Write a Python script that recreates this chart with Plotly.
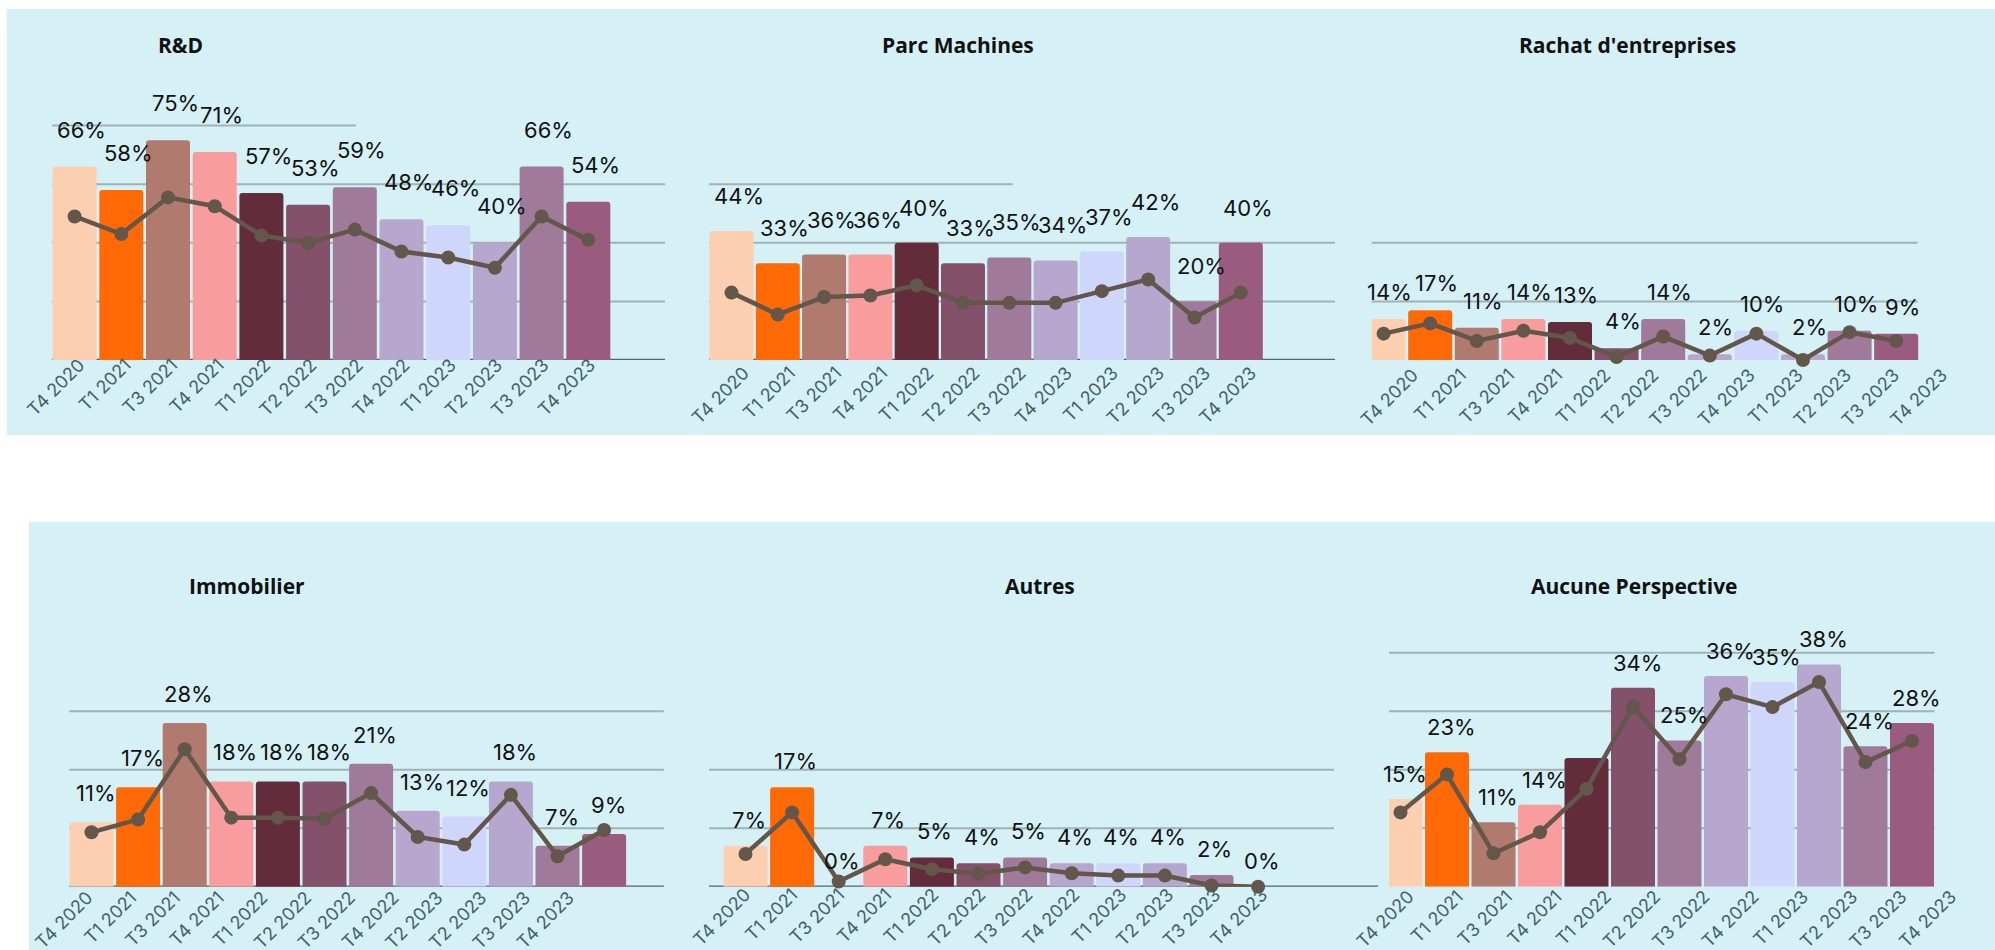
import plotly.graph_objects as go

W, H = 1995, 950

# ---------------- data ----------------
quarters = ["T4 2020", "T1 2021", "T3 2021", "T4 2021", "T1 2022", "T2 2022",
            "T3 2022", "T4 2022", "T1 2023", "T2 2023", "T3 2023", "T4 2023"]

rd_ticks = quarters
parc_ticks = ["T4 2020", "T1 2021", "T3 2021", "T4 2021", "T1 2022", "T2 2022",
              "T3 2022", "T4 2023", "T1 2023", "T2 2023", "T3 2023", "T4 2023"]
rachat_ticks = parc_ticks
immo_ticks = ["T4 2020", "T1 2021", "T3 2021", "T4 2021", "T1 2022", "T2 2022",
              "T3 2022", "T4 2022", "T2 2023", "T2 2023", "T3 2023", "T4 2023"]
autres_ticks = quarters
aucune_ticks = quarters

rd_bars = [66, 58, 75, 71, 57, 53, 59, 48, 46, 40, 66, 54]
rd_line = [49, 43, 55.5, 52.5, 42.5, 40, 44.5, 37, 35, 31.5, 49, 41]

parc_bars = [44, 33, 36, 36, 40, 33, 35, 34, 37, 42, 20, 40]
parc_line = [23, 15.5, 21.5, 22, 25.5, 19.5, 19.5, 19.5, 23.5, 27.5, 14.5, 23]

rachat_bars = [14, 17, 11, 14, 13, 4, 14, 2, 10, 2, 10, 9]
rachat_line = [9, 12.5, 6.5, 10, 7.5, 1, 8, 1.5, 9, 0, 9.5, 6.5]

immo_bars = [11, 17, 28, 18, 18, 18, 21, 13, 12, 18, 7, 9]
immo_line = [9.3, 11.5, 23.5, 11.8, 11.8, 11.6, 16, 8.5, 7.2, 15.7, 5.2, 9.7]

autres_bars = [7, 17, 0, 7, 5, 4, 5, 4, 4, 4, 2, 0]
autres_line = [5.6, 12.7, 0.9, 4.7, 3.0, 2.2, 3.3, 2.3, 1.9, 1.9, 0.2, 0]

aucune_bars = [15, 23, 11, 14, 22, 34, 25, 36, 35, 38, 24, 28]
aucune_line = [12.7, 19.2, 5.7, 9.3, 16.7, 30.8, 21.8, 32.9, 30.7, 35, 21.3, 24.9]
aucune_unlabelled = [4]

bar_colors = ["#FBCFB0", "#FF6A06", "#B07A6F", "#F99C9E", "#632C3A", "#84516A",
              "#A07A9B", "#B7A6CE", "#CFD6FC", "#B5A7CD", "#9F7A9B", "#995C7E"]

# ---------------- style / geometry ----------------
BG = "#D5F1F6"
GRID = "#9FB2B5"
AXIS = "#59636A"
LINE = "#63564A"
LABEL_FONT = "Inter, Noto Sans, sans-serif"
TICK_DX = 4      # label end sits this far right of the tick
TICK_DY = 15     # default drop of the label top below the axis
BAR_W = 44

panels = [
    dict(n=1, title="R&D", bars=rd_bars, line=rd_line, ticks=rd_ticks, hide=[],
         dom=(52.2, 665.0), c0=74.6, pitch=46.7, base=360.0, k=2.93, top=60.0,
         grids=[(20, 52.2, 665), (40, 52.2, 665), (60, 52.2, 665), (80, 52.2, 356)],
         axis=(52.2, 665), tit=(180.8, 45), lab0=83.5, labp=46.4, laby=365, ldy=22, ldx=7),
    dict(n=2, title="Parc Machines", bars=parc_bars, line=parc_line, ticks=parc_ticks, hide=[],
         dom=(709.0, 1335.0), c0=731.5, pitch=46.3, base=360.0, k=2.93, top=60.0,
         grids=[(20, 709, 1335), (40, 709, 1335), (60, 709, 1012.7)],
         axis=(709, 1335), tit=(957.5, 45), lab0=748, labp=46.1, laby=373, ldy=20, ldx=7),
    dict(n=3, title="Rachat d'entreprises", bars=rachat_bars, line=rachat_line, ticks=rachat_ticks, hide=[],
         dom=(1371.7, 1917.5), c0=1383.6, pitch=46.6, base=360.0, k=2.93, top=60.0,
         grids=[(20, 1371.7, 1917.5), (40, 1371.7, 1917.5)],
         axis=None, tit=(1627, 45), lab0=1417, labp=48.1, laby=375, ldy=12, ldx=6),
    dict(n=4, title="Immobilier", bars=immo_bars, line=immo_line, ticks=immo_ticks, hide=[],
         dom=(69.2, 663.8), c0=91.5, pitch=46.6, base=886.7, k=5.85, top=600.0,
         grids=[(10, 69.2, 663.8), (20, 69.2, 663.8), (30, 69.2, 663.8)],
         axis=(69.2, 663.8), tit=(247.3, 586), lab0=91.5, labp=43.75, laby=898, ldy=14, ldx=4),
    dict(n=5, title="Autres", bars=autres_bars, line=autres_line, ticks=autres_ticks, hide=[],
         dom=(709.0, 1334.0), c0=745.5, pitch=46.6, base=886.7, k=5.85, top=600.0,
         grids=[(10, 709, 1334), (20, 709, 1334)],
         axis=(709, 1378), tit=(1039.5, 586), lab0=749.3, labp=47.0, laby=895, ldy=11, ldx=3),
    dict(n=6, title="Aucune Perspective", bars=aucune_bars, line=aucune_line, ticks=aucune_ticks,
         hide=aucune_unlabelled,
         dom=(1389.0, 1934.5), c0=1400.5, pitch=46.5, base=886.7, k=5.85, top=600.0,
         grids=[(10, 1389, 1934.5), (20, 1389, 1934.5), (30, 1389, 1934.5), (40, 1389, 1934.5)],
         axis=None, tit=(1634.3, 586), lab0=1412.6, labp=49.3, laby=897, ldy=10, ldx=4),
]


def px(x):
    return x / W


def py(y):
    return 1 - y / H


fig = go.Figure()
shapes = [
    dict(type="rect", xref="paper", yref="paper", x0=px(6.7), x1=1, y0=py(435), y1=py(9),
         fillcolor=BG, line=dict(width=0), layer="below"),
    dict(type="rect", xref="paper", yref="paper", x0=px(29), x1=1, y0=py(950), y1=py(521.7),
         fillcolor=BG, line=dict(width=0), layer="below"),
]
annotations = []
layout_axes = {}

for p in panels:
    n = p["n"]
    xa = "x" if n == 1 else f"x{n}"
    ya = "y" if n == 1 else f"y{n}"
    xkey = "xaxis" if n == 1 else f"xaxis{n}"
    ykey = "yaxis" if n == 1 else f"yaxis{n}"
    xs = list(range(len(p["bars"])))

    fig.add_trace(go.Bar(x=xs, y=p["bars"], xaxis=xa, yaxis=ya, width=BAR_W / p["pitch"],
                         marker=dict(color=bar_colors, line=dict(width=0)), showlegend=False,
                         hoverinfo="skip"))
    fig.add_trace(go.Scatter(x=xs, y=p["line"], xaxis=xa, yaxis=ya, mode="lines+markers",
                             line=dict(color=LINE, width=4.5), marker=dict(color=LINE, size=14),
                             cliponaxis=False, showlegend=False, hoverinfo="skip"))

    x0, x1 = p["dom"]
    # widen the axis to the right so every tick label fits; gridlines are drawn as shapes
    last_lab = p["lab0"] + p["labp"] * (len(xs) - 1)
    x1w = min(W, max(x1, last_lab + 20))
    xr = [(x0 - p["c0"]) / p["pitch"], (x1w - p["c0"]) / p["pitch"]]
    ymax = (p["base"] - p["top"]) / p["k"]
    tickvals = [(p["lab0"] + p["labp"] * i - TICK_DX - p["c0"]) / p["pitch"] for i in xs]

    layout_axes[xkey] = dict(domain=[px(x0), px(x1w)], range=xr, anchor=ya, showgrid=False,
                             zeroline=False, showline=False, ticks="", tickmode="array",
                             tickvals=tickvals, ticktext=p["ticks"], tickangle=-45,
                             ticklabelstandoff=int(round(p["laby"] - p["base"] - TICK_DY)),
                             tickfont=dict(family=LABEL_FONT, size=18, color="#456068"),
                             fixedrange=True)
    layout_axes[ykey] = dict(domain=[py(p["base"]), py(p["top"])], range=[0, ymax], anchor=xa,
                             showgrid=False, zeroline=False, showline=False,
                             showticklabels=False, ticks="", fixedrange=True)

    for (v, gx0, gx1) in p["grids"]:
        shapes.append(dict(type="line", xref="paper", yref=ya, x0=px(gx0), x1=px(gx1), y0=v, y1=v,
                           line=dict(color=GRID, width=2), layer="below"))
    if p["axis"]:
        shapes.append(dict(type="line", xref="paper", yref=ya, x0=px(p["axis"][0]),
                           x1=px(p["axis"][1]), y0=0, y1=0,
                           line=dict(color=AXIS, width=2.5), layer="below"))

    for i, v in enumerate(p["bars"]):
        if i in p["hide"]:
            continue
        annotations.append(dict(x=i, y=v, xref=xa, yref=ya, text=f"{v}%", showarrow=False,
                                yanchor="bottom", xanchor="center", yshift=p["ldy"],
                                xshift=p["ldx"],
                                font=dict(family=LABEL_FONT, size=22, color="#111111")))

    annotations.append(dict(x=px(p["tit"][0]), y=py(p["tit"][1]), xref="paper", yref="paper",
                            text=f"<b>{p['title']}</b>", showarrow=False, xanchor="center",
                            yanchor="middle",
                            font=dict(family="Open Sans, Noto Sans, sans-serif", size=21,
                                      color="#111111")))

fig.update_layout(width=W, height=H, autosize=False, margin=dict(l=0, r=0, t=0, b=0),
                  paper_bgcolor="white", plot_bgcolor="rgba(0,0,0,0)", template="none",
                  barcornerradius=3, shapes=shapes, annotations=annotations, **layout_axes)

fig.write_html("out.html", config={"displayModeBar": False},
               post_script="document.body.style.margin='0px';")
